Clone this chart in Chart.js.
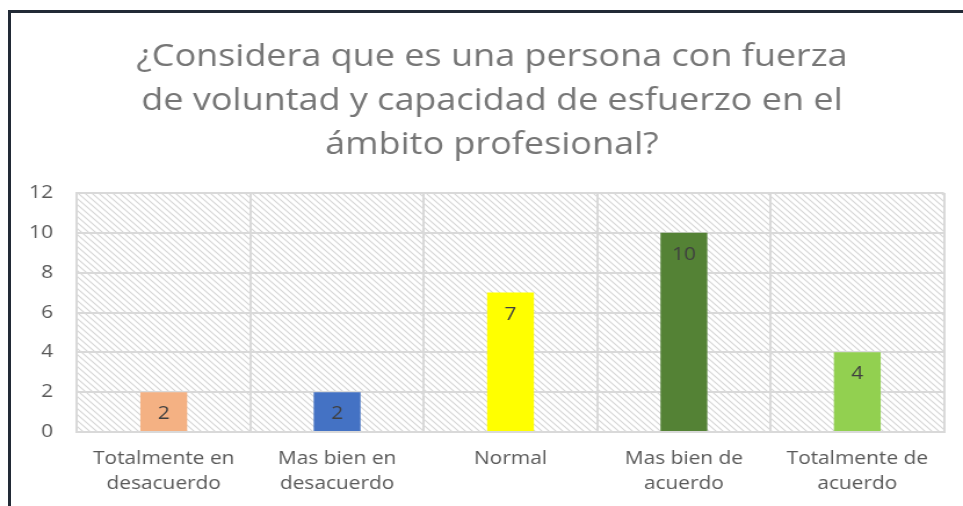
<!DOCTYPE html>
<html>
<head>
<meta charset="utf-8">
<script src="https://cdn.jsdelivr.net/npm/chart.js@4"></script>
<style>
  body { margin: 0; background: #fff; }
  #wrap { position: relative; width: 963px; height: 506px; overflow: hidden; }
  #frame { position: absolute; left: 8px; top: 10px; width: 1000px; height: 600px;
           border-left: 3px solid #222a36; border-top: 3px solid #222a36; }
  /* the original picture is stretched sideways, so the canvas is too */
  canvas { position: absolute; left: 0; top: 0; width: 963px !important; height: 506px !important; }
</style>
</head>
<body>
<div id="wrap">
  <div id="frame"></div>
  <canvas id="barChart" width="830" height="506"></canvas>
</div>
<script>
// chart data
const titleLines = ['¿Considera que es una persona con fuerza', 'de voluntad y capacidad de esfuerzo en el', 'ámbito profesional?'];
const categories = [['Totalmente en', 'desacuerdo'], ['Mas bien en', 'desacuerdo'], ['Normal'], ['Mas bien de', 'acuerdo'], ['Totalmente de', 'acuerdo']];
const answers = [2, 2, 7, 10, 4];
const barColors = ['#f4b183', '#4472c4', '#ffff00', '#548235', '#92d050'];
const yTicks = [0, 2, 4, 6, 8, 10, 12];

// hatched background for the plot area
function makeHatch() {
    let c = document.createElement('canvas');
    c.width = 6; c.height = 6;
    let g = c.getContext('2d');
    g.fillStyle = '#fff';
    g.fillRect(0, 0, 6, 6);
    g.strokeStyle = '#d6d6d6';
    g.lineWidth = 1.1;
    g.beginPath();
    g.moveTo(-1, -1); g.lineTo(7, 7);
    g.moveTo(-1, 5); g.lineTo(1, 7);
    g.moveTo(5, -1); g.lineTo(7, 1);
    g.stroke();
    return c;
}

const hatchBg = {
    id: 'hatchBg',
    beforeDraw(chart) {
        let a = chart.chartArea, ctx = chart.ctx;
        ctx.save();
        ctx.fillStyle = ctx.createPattern(makeHatch(), 'repeat');
        ctx.fillRect(a.left, a.top, a.right - a.left, a.bottom - a.top);
        ctx.restore();
    }
};

// title drawn by hand so it can sit a bit right of the plot centre
const chartTitle = {
    id: 'chartTitle',
    afterDraw(chart) {
        let ctx = chart.ctx;
        ctx.save();
        ctx.font = '31px "Open Sans"';
        ctx.fillStyle = '#767676';
        ctx.textAlign = 'center';
        ctx.textBaseline = 'middle';
        titleLines.forEach((line, i) => {
            ctx.fillText(line, 424, 57 + i * 44);
        });
        ctx.restore();
    }
};

const valueLabels = {
    id: 'valueLabels',
    afterDatasetsDraw(chart) {
        let ctx = chart.ctx;
        ctx.save();
        ctx.font = '18px "Open Sans"';
        ctx.fillStyle = '#404040';
        ctx.textAlign = 'center';
        ctx.textBaseline = 'middle';
        chart.getDatasetMeta(0).data.forEach((bar, i) => {
            ctx.fillText(answers[i], bar.x, bar.y + 22);
        });
        ctx.restore();
    }
};

let ctx = document.getElementById('barChart').getContext('2d');
let barChart = new Chart(ctx, {
    type: 'bar',
    data: {
        labels: categories,
        datasets: [{
            data: answers,
            backgroundColor: barColors,
            categoryPercentage: 1,
            barPercentage: 0.27
        }]
    },
    options: {
        responsive: false,
        animation: false,
        layout: { padding: { left: 0, right: 16.4, top: 193, bottom: 0 } },
        plugins: {
            legend: { display: false },
            tooltip: { enabled: false },
            title: { display: false }
        },
        scales: {
            x: {
                grid: { offset: true, color: '#d9d9d9', lineWidth: 2, drawTicks: false },
                border: { color: '#d9d9d9', width: 2 },
                ticks: { color: '#595959', font: { family: 'Open Sans', size: 18, lineHeight: 1.4 }, padding: 14 },
                afterFit: s => { s.height = 74; }
            },
            y: {
                min: 0, max: 12,
                afterBuildTicks: s => { s.ticks = yTicks.map(v => ({ value: v })); },
                grid: { color: '#d9d9d9', lineWidth: 2, drawTicks: false },
                border: { color: '#d9d9d9', width: 2 },
                ticks: { color: '#595959', font: { family: 'Open Sans', size: 18 }, padding: 20.7 },
                afterFit: s => { s.width = 66.4; }
            }
        }
    },
    plugins: [hatchBg, chartTitle, valueLabels]
});
</script>
</body>
</html>
